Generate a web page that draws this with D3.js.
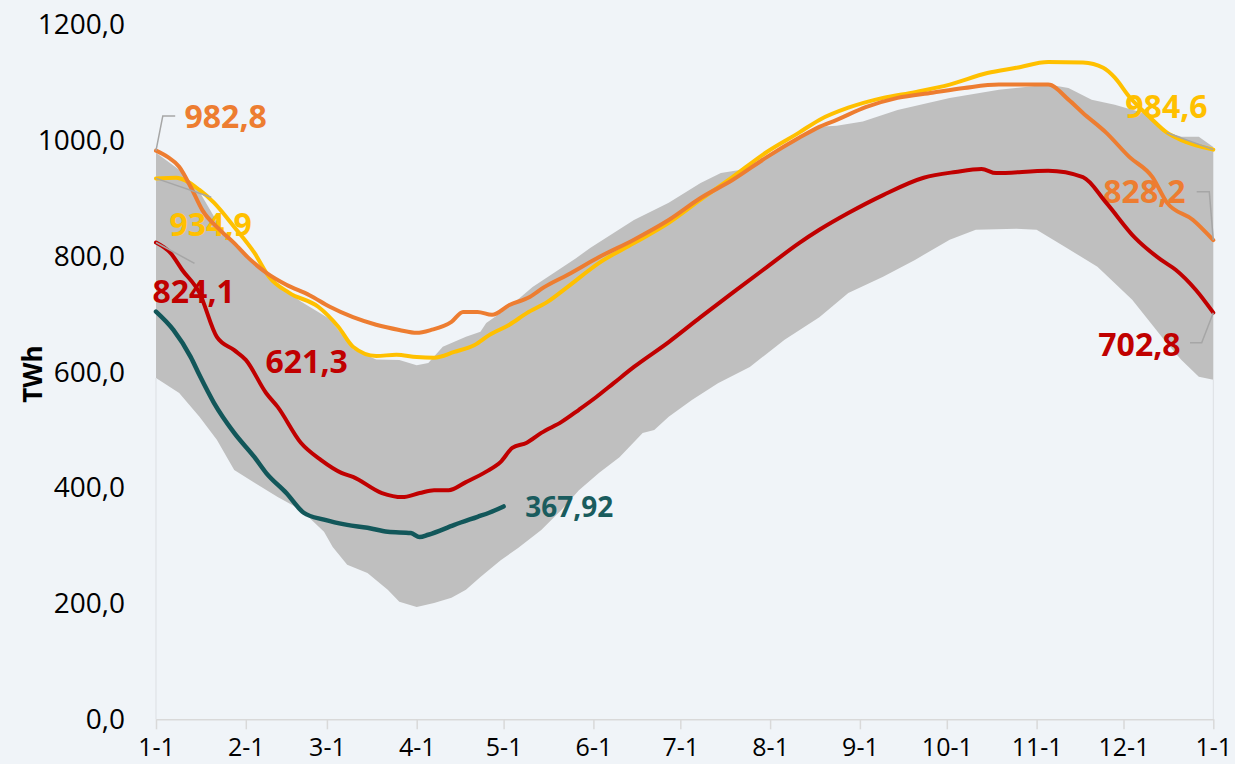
<!DOCTYPE html>
<html>
<head>
<meta charset="utf-8">
<script src="https://cdn.jsdelivr.net/npm/d3@7"></script>
<style>
  html, body { margin: 0; padding: 0; background: #f0f4f8; }
  svg { display: block; }
  text { font-family: "Open Sans", "Noto Sans", sans-serif; }
</style>
</head>
<body>
<svg id="chart" width="1235" height="764"></svg>
<script>
// ---- DATA (day offsets from 1 January, values in TWh) ----
const xTickLabels = ["1-1","2-1","3-1","4-1","5-1","6-1","7-1","8-1","9-1","10-1","11-1","12-1","1-1"];
const yTicks = [0, 200, 400, 600, 800, 1000, 1200];
const yTickLabels = ["0,0","200,0","400,0","600,0","800,0","1000,0","1200,0"];

const bandUpperDays = [0,8,15,22,30,40,50,60,68,76,84,90,94,99,107,112,114,122,130,139,145,150,165,177,188,195,202,211,222,229,235,244,256,274,291,308,315,323,331,343,349,354,360,365];
const bandUpperVals = [979,950,912,852,805,760,722,692,640,622,621,612,616,644,661,670,685,713,747,777,797,815,863,893,927,944,950,972,1007,1024,1026,1033,1053,1074,1088,1097,1091,1071,1062,1045,1015,1007,1007,989];

const bandLowerDays = [0,8,15,21,27,34,42,50,58,61,66,73,80,84,90,96,102,107,112,119,125,133,140,146,153,160,168,172,177,185,194,205,217,229,239,251,262,274,283,297,304,314,325,337,348,354,360,365];
const bandLowerVals = [590,564,523,483,431,409,384,362,324,298,267,253,224,203,194,201,210,224,246,275,296,327,362,396,426,453,495,500,523,552,581,609,656,695,737,765,794,829,846,848,846,816,782,725,656,621,592,587];

const orangeDays = [0,4,8,12,16,22,27,32,38,45,53,60,68,76,84,90,95,102,106,111,116,122,129,134,142,153,165,177,188,199,211,222,229,235,245,256,268,279,291,308,315,320,328,336,344,349,358,365];
const orangeVals = [982.8,972,955,920,880,846,823,797,772,751,733,713,695,682,673,668,673,687,704,704,699,716,730,747,768,799,829,863,901,932,972,1005,1024,1036,1058,1074,1083,1091,1097,1097,1071,1048,1014,972,937,893,863,828.2];

const yellowDays = [0,7,15,20,27,34,39,46,56,63,68,76,83,90,96,103,110,115,122,128,135,142,153,165,177,188,199,211,222,229,239,251,262,274,287,297,308,320,327,331,336,343,349,354,365];
const yellowVals = [934.9,936,915,893,851,806,765,737,713,678,644,628,630,626,625,635,647,664,682,702,721,747,789,823,858,898,937,981,1014,1036,1057,1074,1084,1097,1117,1126,1136,1135,1126,1109,1076,1041,1014,1001,984.6];

const redDays = [0,5,9,15,21,27,31,38,42,50,57,64,68,78,85,91,96,101,107,114,119,123,128,133,140,146,152,158,165,177,188,199,211,222,229,239,251,265,276,285,290,308,320,328,338,347,352,359,365];
const redVals = [824.1,806,777,737,661,638,621.3,564,540,478,448,426,419,391,384,391,396,396,410,428,445,469,478,495,514,535,557,581,609,652,695,737,782,823,846,875,906,936,946,951,944,948,937,893,832,794,777,742,702.8];

const tealDays = [0,6,12,15,20,27,34,38,45,51,58,66,73,80,88,91,94,103,111,115,120];
const tealVals = [704.6,673,626,595,547,495,453,426,391,357,345,336,331,324,322,315,319,336,350,357,367.92];

// ---- SETUP ----
const svg = d3.select("#chart");
const T0 = Date.UTC(2023, 0, 1);
const toDate = d => new Date(T0 + d * 864e5);
const zip = (ds, vs) => ds.map((d, i) => ({ date: toDate(d), v: vs[i] }));

const x = d3.scaleUtc().domain([toDate(0), toDate(365)]).range([156, 1213.3]);
const y = d3.scaleLinear().domain([0, 1200]).range([719.3, 25]);

const colors = { orange: "#ed7d31", yellow: "#ffc000", red: "#c00000", teal: "#12575a", band: "#bfbfbf" };

const upper = zip(bandUpperDays, bandUpperVals);
const lower = zip(bandLowerDays, bandLowerVals);
const series = {
  orange: zip(orangeDays, orangeVals),
  yellow: zip(yellowDays, yellowVals),
  red: zip(redDays, redVals),
  teal: zip(tealDays, tealVals)
};

const line = d3.line().x(d => x(d.date)).y(d => y(d.v));
const smoothLine = d3.line().x(d => x(d.date)).y(d => y(d.v)).curve(d3.curveMonotoneX);

// band polygon
svg.append("path")
  .attr("d", line(upper.concat(lower.slice().reverse())) + "Z")
  .attr("fill", colors.band);

// band outline edges (below band)
[lower[0], lower[lower.length - 1]].forEach(p => {
  svg.append("line")
    .attr("x1", x(p.date)).attr("x2", x(p.date))
    .attr("y1", y(p.v)).attr("y2", y(0))
    .attr("stroke", "#dcdfe3").attr("stroke-width", 1);
});

// x axis
const monthDates = d3.utcMonths(toDate(0), toDate(366));
const xAxis = svg.append("g")
  .attr("transform", `translate(0,${y(0)})`)
  .call(d3.axisBottom(x).tickValues(monthDates).tickFormat((d, i) => xTickLabels[i]).tickSize(10).tickPadding(9).tickSizeOuter(0));
xAxis.select(".domain").attr("stroke", "#d9d9d9").attr("stroke-width", 1.5);
xAxis.selectAll(".tick line").attr("stroke", "#d9d9d9").attr("stroke-width", 1.5);
xAxis.selectAll(".tick text").attr("font-size", 25).attr("fill", "#000")
  .style("font-family", '"Open Sans", sans-serif');

// y axis
const yAxis = svg.append("g")
  .attr("transform", `translate(${x(toDate(0))},0)`)
  .call(d3.axisLeft(y).tickValues(yTicks).tickFormat((d, i) => yTickLabels[i]).tickSize(0).tickPadding(31));
yAxis.select(".domain").remove();
yAxis.selectAll(".tick text").attr("font-size", 28).attr("fill", "#000")
  .style("font-family", '"Open Sans", sans-serif');

// y title
svg.append("text")
  .attr("transform", `translate(42,${y(600) + 2}) rotate(-90)`)
  .attr("text-anchor", "middle")
  .attr("font-size", 26).attr("font-weight", "bold").attr("fill", "#000")
  .text("TWh");

// annotations (anchored on data points)
const annotations = [
  { s: "orange", at: "first", text: "982,8", dx: 28.5, dy: -22.7, size: 32, leader: [[6.8, -34.7], [19.2, -34.7]] },
  { s: "yellow", at: "first", text: "934,9", dx: 13.5, dy: 57.6, size: 32, leader: [[55.2, 18.9]] },
  { s: "red", at: "first", text: "824,1", dx: -3.5, dy: 60.5, size: 32, leader: [[38.5, 20.8]] },
  { s: "red", at: 6, text: "621,3", dx: 19.7, dy: 13.2, size: 32, leader: null },
  { s: "teal", at: "last", text: "367,92", dx: 21.7, dy: 10.6, size: 28, leader: null },
  { s: "yellow", at: "last", text: "984,6", dx: -88, dy: -31.6, size: 32, leader: [[-46.6, -16.9]] },
  { s: "orange", at: "last", text: "828,2", dx: -110, dy: -37, size: 32, leader: [[-4, -48.4], [-16.6, -48.4]] },
  { s: "red", at: "last", text: "702,8", dx: -115, dy: 43.3, size: 32, leader: [[-11.6, 30], [-23.3, 30]] }
];
const pointOf = a => {
  const arr = series[a.s];
  const p = a.at === "first" ? arr[0] : a.at === "last" ? arr[arr.length - 1] : arr[a.at];
  return [x(p.date), y(p.v)];
};

const labelG = svg.append("g");
annotations.forEach(a => {
  const [px, py] = pointOf(a);
  labelG.append("text")
    .attr("x", px + a.dx).attr("y", py + a.dy)
    .attr("font-size", a.size).attr("font-weight", "bold")
    .attr("fill", a.s === "teal" ? "#1a5c5e" : colors[a.s])
    .text(a.text);
});

// series lines
["yellow", "orange", "red", "teal"].forEach(k => {
  svg.append("path")
    .attr("d", smoothLine(series[k]))
    .attr("fill", "none")
    .attr("stroke", colors[k])
    .attr("stroke-width", k === "teal" ? 4.5 : 4)
    .attr("stroke-linejoin", "round")
    .attr("stroke-linecap", "round");
});

// leader lines
annotations.filter(a => a.leader).forEach(a => {
  const [px, py] = pointOf(a);
  const pts = [[px, py]].concat(a.leader.map(([dx, dy]) => [px + dx, py + dy]));
  svg.append("path")
    .attr("d", d3.line()(pts))
    .attr("fill", "none")
    .attr("stroke", "#a6a6a6")
    .attr("stroke-width", 1.5);
});
</script>
</body>
</html>
